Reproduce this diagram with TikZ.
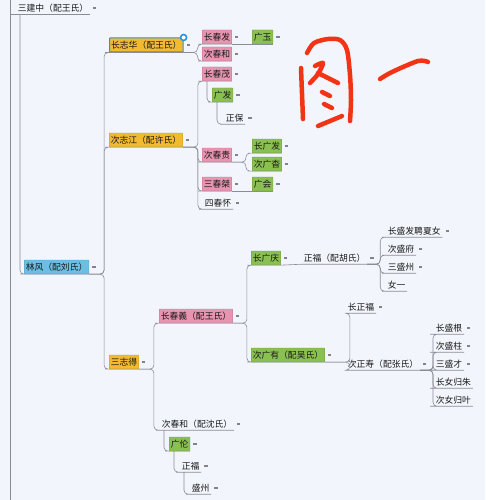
\documentclass[tikz,border=0pt]{standalone}
\usepackage{fontspec}
\newfontfamily\cjk{Noto Sans CJK SC}
\usepackage{tikz}
\usetikzlibrary{calc}
\definecolor{mmbg}{RGB}{242,245,252}
\definecolor{mmtext}{RGB}{25,25,25}
\definecolor{mmline}{RGB}{140,140,150}
\definecolor{mmnote}{RGB}{130,130,138}
\definecolor{mmorange}{RGB}{243,186,48}
\definecolor{mmpink}{RGB}{232,148,176}
\definecolor{mmgreen}{RGB}{138,192,82}
\definecolor{mmblue}{RGB}{108,190,226}
\definecolor{mmsel}{RGB}{30,150,235}
\definecolor{mmred}{RGB}{242,52,22}
\tikzset{
  mm/.style={font=\cjk\fontsize{8.8}{10}\selectfont, text=mmtext, anchor=west, inner xsep=1.6pt, inner ysep=0pt},
  plain/.style={mm, minimum height=12pt},
  tbox/.style={mm, minimum height=14pt, rounded corners=0.5pt, line width=0.3pt},
  orangebox/.style={tbox, fill=mmorange, draw=mmorange!80!black},
  pinkbox/.style={tbox, fill=mmpink, draw=mmpink!80!black},
  greenbox/.style={tbox, fill=mmgreen, draw=mmgreen!80!black},
  bluebox/.style={tbox, fill=mmblue, draw=mmblue!80!black},
  notemk/.style={fill=mmnote, inner sep=0pt, minimum width=3.2pt, minimum height=2.8pt, xshift=3pt},
  note/.style={label={[notemk]east:{}}},
  link/.style={draw=mmline, line width=0.6pt, rounded corners=4pt},
  ink/.style={draw=mmred, line width=4.5pt, line cap=round, line join=round}
}
\begin{document}
\begin{tikzpicture}[x=1pt, y=-1pt]
  \fill[mmbg] (0,0) rectangle (485,500);
  \useasboundingbox (0,0) rectangle (485,500);
  %% root row
  \coordinate (railtop) at (10,0);
  \coordinate (railbot) at (10,500);
  \node[plain, note] (sjz) at (16,8) {三建中（配王氏）};
  \node[bluebox, note] (lf) at (24,267) {林风（配刘氏）};
  %% sons
  \node[orangebox, note, draw=mmsel, line width=1pt] (czh) at (109,45) {长志华（配王氏）};
  \node[circle, draw=mmsel, fill=white, line width=1.6pt, inner sep=0pt, minimum size=6pt] (czhdot) at (czh.north east) {};
  \node[orangebox, note] (czj) at (109,140) {次志江（配许氏）};
  \node[orangebox, note] (szd) at (109,362) {三志得};
  %% 长志华
  \node[pinkbox, note] (ccf) at (202,37) {长春发};
  \node[greenbox, note] (gy) at (252,37) {广玉};
  \node[pinkbox, note] (cch) at (202,54) {次春和};
  %% 次志江
  \node[pinkbox, note] (ccm) at (202,74) {长春茂};
  \node[greenbox, note] (gf) at (212,95) {广发};
  \node[plain, note] (zb) at (224,118) {正保};
  \node[pinkbox, note] (ccg) at (202,155) {次春贵};
  \node[greenbox, note] (cgf) at (252,146) {长广发};
  \node[greenbox, note] (cgy) at (252,164) {次广杳};
  \node[pinkbox, note] (ccj) at (202,184) {三春桀};
  \node[greenbox, note] (gh) at (252,184) {广会};
  \node[plain, note] (sch) at (203,203) {四春怀};
  %% 三志得
  \node[pinkbox, note] (ccy) at (159,316) {长春義（配王氏）};
  \node[greenbox, note] (cgq) at (251,258) {长广庆};
  \node[plain, note] (zf) at (302,258) {正福（配胡氏）};
  \node[plain, note] (csf) at (386,231) {长盛发聘夏女};
  \node[plain, note] (csfu) at (386,249) {次盛府};
  \node[plain, note] (ssz) at (386,267) {三盛州};
  \node[plain] (ny) at (386,285) {女一};
  \node[greenbox, note] (cgy2) at (251,355) {次广有（配吴氏）};
  \node[plain, note] (czf) at (346,307) {长正福};
  \node[plain, note] (czs) at (346,364) {次正寿（配张氏）};
  \node[plain, note] (csg) at (434,328) {长盛根};
  \node[plain, note] (csz) at (434,346) {次盛柱};
  \node[plain, note] (scc) at (434,364) {三盛才};
  \node[plain] (nvz) at (434,382) {长女归朱};
  \node[plain] (nvy) at (434,400) {次女归叶};
  \node[plain, note] (cch2) at (160,424) {次春和（配沈氏）};
  \node[greenbox, note] (gl) at (169,444) {广伦};
  \node[plain, note] (zf2) at (180,466) {正福};
  \node[plain, note] (sz2) at (190,488) {盛州};
  %% connectors
  \draw[link] (railtop) -- (railbot);
  \draw[link] (railtop |- sjz.south) -- (sjz.south east);
  \draw[link] ($(sjz.south west)+(4,0)$) |- (lf.south west) -- (lf.south east);
  \foreach \c in {czh,czj,szd}
    \draw[link] (lf.south east) -- ++(15,0) |- (\c.south west) -- (\c.south east);
  \foreach \c in {ccf,cch}
    \draw[link] (czh.south east) -- ++(14,0) |- (\c.south west) -- (\c.south east);
  \draw[link] (ccf.south east) -- (gy.south west) -- (gy.south east);
  \foreach \c in {ccm,ccg,ccj,sch}
    \draw[link] (czj.south east) -- ++(15,0) |- (\c.south west) -- (\c.south east);
  \draw[link] ($(ccm.south west)+(5,0)$) |- (gf.south west) -- (gf.south east);
  \draw[link] ($(gf.south west)+(5,0)$) |- (zb.south west) -- (zb.south east);
  \foreach \c in {cgf,cgy}
    \draw[link] (ccg.south east) -- ++(14,0) |- (\c.south west) -- (\c.south east);
  \draw[link] (ccj.south east) -- (gh.south west) -- (gh.south east);
  \foreach \c in {ccy,cch2}
    \draw[link] (szd.south east) -- ++(15,0) |- (\c.south west) -- (\c.south east);
  \foreach \c in {cgq,cgy2}
    \draw[link] (ccy.south east) -- ++(14,0) |- (\c.south west) -- (\c.south east);
  \draw[link] (cgq.south east) -- (zf.south west) -- (zf.south east);
  \foreach \c in {csf,csfu,ssz,ny}
    \draw[link] (zf.south east) -- ++(13,0) |- (\c.south west) -- (\c.south east);
  \foreach \c in {czf,czs}
    \draw[link] (cgy2.south east) -- ++(25,0) |- (\c.south west) -- (\c.south east);
  \foreach \c in {csg,csz,scc,nvz,nvy}
    \draw[link] (czs.south east) -- ++(13,0) |- (\c.south west) -- (\c.south east);
  \draw[link] ($(cch2.south west)+(4,0)$) |- (gl.south west) -- (gl.south east);
  \draw[link] ($(gl.south west)+(5,0)$) |- (zf2.south west) -- (zf2.south east);
  \draw[link] ($(zf2.south west)+(4,0)$) |- (sz2.south west) -- (sz2.south east);
  %% handwritten mark
  \draw[ink] (301,68) -- (303,119);
  \draw[ink] plot[smooth] coordinates {(307,53) (314,43) (328,39) (340,40) (347,50) (350,75) (351,100) (350,121)};
  \draw[ink] plot[smooth] coordinates {(315,66) (323,63) (318,74) (310,83)};
  \draw[ink] (318,73) -- (338,83);
  \draw[ink] (322,92) -- (330,96);
  \draw[ink] (324,104) -- (332,108);
  \draw[ink] (318,126) -- (342,116);
  \draw[ink] plot[smooth] coordinates {(380,79) (392,72) (418,61) (428,62)};
\end{tikzpicture}
\end{document}
